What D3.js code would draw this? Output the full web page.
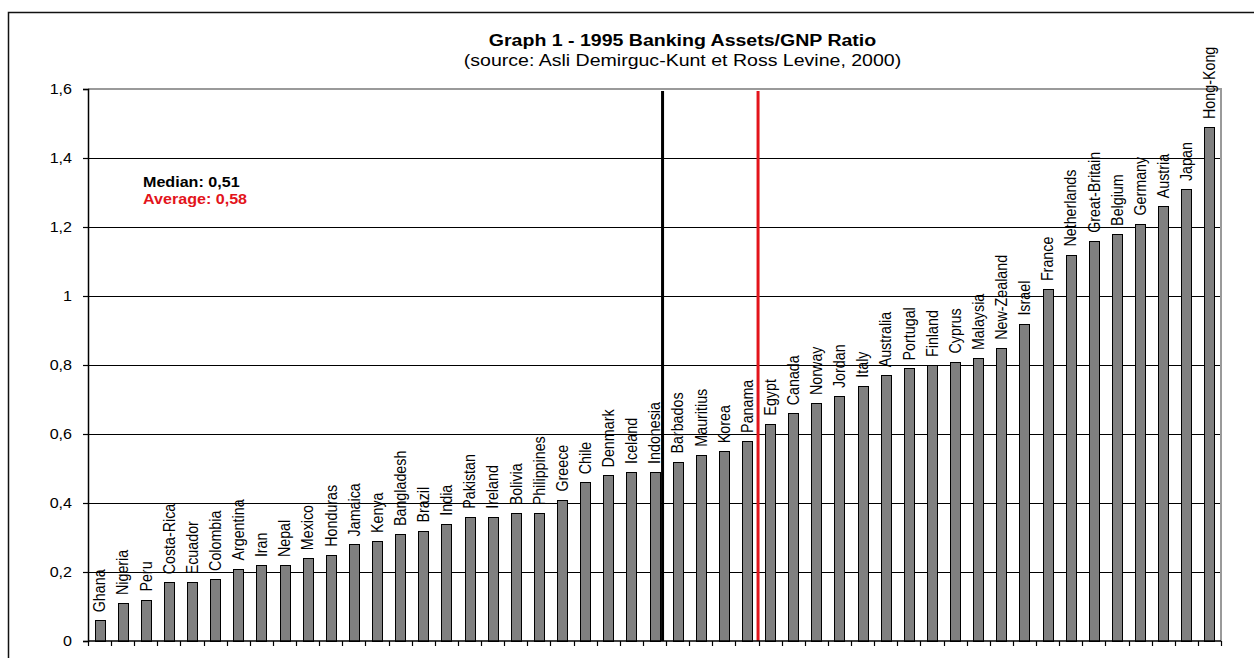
<!DOCTYPE html>
<html>
<head>
<meta charset="utf-8">
<script src="https://cdn.jsdelivr.net/npm/d3@7"></script>
<style>
  html, body { margin: 0; padding: 0; background: #fff; }
  svg { display: block; font-family: "Liberation Sans", Arial, sans-serif; }
</style>
</head>
<body>
<svg id="chart" width="1254" height="658"></svg>
<script>
// 1995 banking assets / GNP, countries sorted ascending
const countries = ["Ghana","Nigeria","Peru","Costa-Rica","Ecuador","Colombia","Argentina","Iran","Nepal","Mexico",
  "Honduras","Jamaica","Kenya","Bangladesh","Brazil","India","Pakistan","Ireland","Bolivia","Philippines",
  "Greece","Chile","Denmark","Iceland","Indonesia","Barbados","Mauritius","Korea","Panama","Egypt",
  "Canada","Norway","Jordan","Italy","Australia","Portugal","Finland","Cyprus","Malaysia","New-Zealand",
  "Israel","France","Netherlands","Great-Britain","Belgium","Germany","Austria","Japan","Hong-Kong"];
const ratios = [0.06,0.11,0.12,0.17,0.17,0.18,0.21,0.22,0.22,0.24,
  0.25,0.28,0.29,0.31,0.32,0.34,0.36,0.36,0.37,0.37,
  0.41,0.46,0.48,0.49,0.49,0.52,0.54,0.55,0.58,0.63,
  0.66,0.69,0.71,0.74,0.77,0.79,0.80,0.81,0.82,0.85,
  0.92,1.02,1.12,1.16,1.18,1.21,1.26,1.31,1.49];
const yTicks = [0,0.2,0.4,0.6,0.8,1,1.2,1.4,1.6];
const title = "Graph 1 - 1995 Banking Assets/GNP Ratio";
const subtitle = "(source: Asli Demirguc-Kunt et Ross Levine, 2000)";
const medianLabel = "Median: 0,51";
const averageLabel = "Average: 0,58";
// the median line sits before this country, the average line before this one
const medianBefore = "Barbados";
const averageBefore = "Egypt";

const svg = d3.select("#chart");
const W = 1254, H = 658;
const m = {left: 88, right: 1221, top: 89, bottom: 641};
const SX = 1.15; // horizontal text stretch

svg.append("rect").attr("width", W).attr("height", H).attr("fill", "#fff");

// outer frame
svg.append("rect")
  .attr("x", 8.5).attr("y", 12.5).attr("width", 1300).attr("height", 700)
  .attr("fill", "none").attr("stroke", "#111").attr("stroke-width", 1.5);

const x = d3.scaleBand().domain(countries).range([m.left, m.right]).padding(0);
const y = d3.scaleLinear().domain([0, 1.6]).range([m.bottom, m.top]);
const fr = d3.formatLocale({decimal: ",", thousands: " ", grouping: [3], currency: ["", ""]});
const fmt = fr.format("~g");
const crisp = v => Math.round(v) + 0.5;

// gridlines
svg.append("g").selectAll("line")
  .data(yTicks.filter(t => t > 0))
  .join("line")
  .attr("x1", m.left).attr("x2", m.right)
  .attr("y1", d => d === 1.6 ? y(d) : crisp(y(d)))
  .attr("y2", d => d === 1.6 ? y(d) : crisp(y(d)))
  .attr("stroke", d => d === 1.6 ? "#9a9a9a" : "#000")
  .attr("stroke-width", d => d === 1.6 ? 2 : 1);

// right border of plot area
svg.append("line")
  .attr("x1", m.right).attr("x2", m.right)
  .attr("y1", m.top - 1).attr("y2", m.bottom)
  .attr("stroke", "#9a9a9a").attr("stroke-width", 2);

// bars
const barW = 10;
svg.append("g").selectAll("rect")
  .data(countries)
  .join("rect")
  .attr("x", (d) => Math.round(x(d) + x.bandwidth() / 2 - barW / 2) + 0.5)
  .attr("y", (d, i) => Math.round(y(ratios[i])) + 0.5)
  .attr("width", barW)
  .attr("height", (d, i) => Math.round(y(0)) - Math.round(y(ratios[i])))
  .attr("fill", "#808080")
  .attr("stroke", "#000").attr("stroke-width", 1);

// median and average lines
svg.append("line")
  .attr("x1", x(medianBefore) - 3.5).attr("x2", x(medianBefore) - 3.5)
  .attr("y1", y(1.6) + 2).attr("y2", y(0))
  .attr("stroke", "#000").attr("stroke-width", 3);
svg.append("line")
  .attr("x1", x(averageBefore) - 0.5).attr("x2", x(averageBefore) - 0.5)
  .attr("y1", y(1.6) + 2).attr("y2", y(0))
  .attr("stroke", "#e3141b").attr("stroke-width", 3);

// country labels above bars
svg.append("g").selectAll("text")
  .data(countries)
  .join("text")
  .attr("transform", (d, i) => `translate(${x(d) + x.bandwidth() / 2},${y(ratios[i]) - 8}) scale(${SX},1) rotate(-90)`)
  .attr("dy", "0.35em")
  .attr("font-size", 14.3)
  .attr("fill", "#000")
  .text(d => d);

// y axis
const yAxis = d3.axisLeft(y).tickValues(yTicks).tickFormat(fmt).tickSize(5).tickPadding(11);
const gy = svg.append("g").attr("transform", `translate(${m.left},0)`).call(yAxis);
gy.select(".domain").attr("stroke", "#000").attr("stroke-width", 1.5);
gy.selectAll(".tick line").attr("stroke", "#000").attr("stroke-width", 1.2);
gy.selectAll(".tick text")
  .attr("font-size", 14).attr("font-family", "Liberation Sans, Arial, sans-serif")
  .attr("fill", "#000")
  .attr("transform", `scale(${SX},1)`)
  .attr("x", -16 / SX).attr("dy", "0.34em");

// x axis: baseline with ticks between categories
const xEdges = countries.map(c => x(c)).concat([m.right]);
svg.append("line")
  .attr("x1", m.left).attr("x2", m.right)
  .attr("y1", y(0)).attr("y2", y(0))
  .attr("stroke", "#000").attr("stroke-width", 1.5);
svg.append("g").selectAll("line")
  .data(xEdges)
  .join("line")
  .attr("x1", d => crisp(d)).attr("x2", d => crisp(d))
  .attr("y1", y(0)).attr("y2", y(0) + 5)
  .attr("stroke", "#000").attr("stroke-width", 1.2);

// titles
svg.append("text")
  .attr("transform", `translate(682.5,46) scale(${SX},1)`)
  .attr("text-anchor", "middle").attr("font-size", 17).attr("font-weight", "bold")
  .text(title);
svg.append("text")
  .attr("transform", `translate(682.5,66) scale(${SX},1)`)
  .attr("text-anchor", "middle").attr("font-size", 17)
  .text(subtitle);

// median / average annotation
svg.append("text")
  .attr("transform", `translate(143,187) scale(${SX},1)`)
  .attr("font-size", 14).attr("font-weight", "bold").attr("fill", "#000")
  .text(medianLabel);
svg.append("text")
  .attr("transform", `translate(143,204) scale(${SX},1)`)
  .attr("font-size", 14).attr("font-weight", "bold").attr("fill", "#e3141b")
  .text(averageLabel);
</script>
</body>
</html>
